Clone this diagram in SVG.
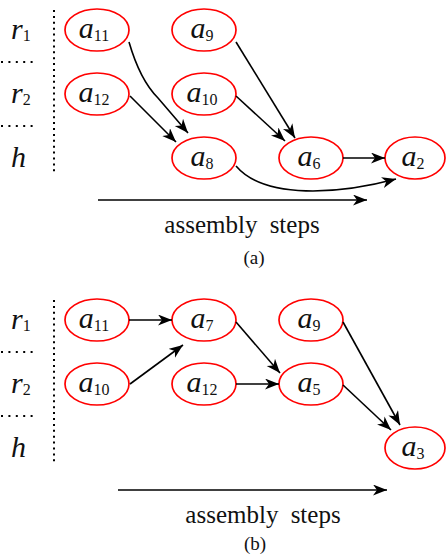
<svg xmlns="http://www.w3.org/2000/svg" width="446" height="556" viewBox="0 0 446 556">
<style>
.node ellipse{fill:#fff;stroke:#f00;stroke-width:1.7}
.m{font-style:italic;font-size:30px}
.s{font-style:normal;font-size:16px}
.lbl{text-anchor:middle}
.t{font-size:25px;text-anchor:middle;word-spacing:6px}
.cap{font-size:19px;text-anchor:middle}
.e{fill:none;stroke:#000;stroke-width:1.6;marker-end:url(#ah)}
.dv{stroke:#000;stroke-width:2;stroke-dasharray:2 3.9;fill:none}
.dh{stroke:#000;stroke-width:2;stroke-dasharray:2 5.4;fill:none}
</style>
<defs>
<marker id="ah" markerUnits="userSpaceOnUse" markerWidth="16" markerHeight="12" refX="14" refY="5.5" orient="auto">
<path d="M0,0 L14,5.5 L0,11 L4,5.5 z" fill="#000"/>
</marker>
</defs>

<g font-family="Liberation Serif" fill="#111">
<!-- panel (a) -->
<g id="axes-a">
<line class="dv" x1="54" y1="10" x2="54" y2="174"/>
<line class="dh" x1="1" y1="62" x2="38" y2="62"/>
<line class="dh" x1="1" y1="126" x2="38" y2="126"/>
<text class="m" x="11" y="39">r<tspan class="s" dy="2">1</tspan></text>
<text class="m" x="11" y="103">r<tspan class="s" dy="2">2</tspan></text>
<text class="m" x="11" y="167">h</text>
</g>
<g id="a-a11" class="node"><ellipse cx="97" cy="30" rx="32" ry="21"/><text class="m lbl" x="94" y="37.5">a<tspan class="s" dy="3">11</tspan></text></g>
<g id="a-a9" class="node"><ellipse cx="204" cy="30" rx="32" ry="21"/><text class="m lbl" x="202" y="37.5">a<tspan class="s" dy="3">9</tspan></text></g>
<g id="a-a12" class="node"><ellipse cx="97" cy="94" rx="32" ry="21"/><text class="m lbl" x="94" y="101.5">a<tspan class="s" dy="3">12</tspan></text></g>
<g id="a-a10" class="node"><ellipse cx="204" cy="94" rx="32" ry="21"/><text class="m lbl" x="202" y="101.5">a<tspan class="s" dy="3">10</tspan></text></g>
<g id="a-a8" class="node"><ellipse cx="204" cy="158" rx="32" ry="21"/><text class="m lbl" x="202" y="165.5">a<tspan class="s" dy="3">8</tspan></text></g>
<g id="a-a6" class="node"><ellipse cx="311" cy="158" rx="32" ry="21"/><text class="m lbl" x="309" y="165.5">a<tspan class="s" dy="3">6</tspan></text></g>
<g id="a-a2" class="node"><ellipse cx="415" cy="158" rx="30" ry="21"/><text class="m lbl" x="413" y="165.5">a<tspan class="s" dy="3">2</tspan></text></g>
<g id="connectors-a">
<path class="e" d="M129,42 Q140,80 158,98 L188,133"/>
<path class="e" d="M130,96 L176,142"/>
<path class="e" d="M236,42 L295,138"/>
<path class="e" d="M236,96 L285,141"/>
<path class="e" d="M343,158 L385,158"/>
<path class="e" d="M236,166 C265,200 340,194 396,179"/>
<path class="e" d="M98,200 L367,200"/>
</g>
<text class="t" x="242" y="233">assembly steps</text>
<text class="cap" x="254" y="264">(a)</text>

<!-- panel (b) -->
<g id="axes-b">
<line class="dv" x1="54" y1="300" x2="54" y2="464"/>
<line class="dh" x1="1" y1="352" x2="38" y2="352"/>
<line class="dh" x1="1" y1="416" x2="38" y2="416"/>
<text class="m" x="11" y="329">r<tspan class="s" dy="2">1</tspan></text>
<text class="m" x="11" y="393">r<tspan class="s" dy="2">2</tspan></text>
<text class="m" x="11" y="457">h</text>
</g>
<g id="b-a11" class="node"><ellipse cx="97" cy="320" rx="32" ry="21"/><text class="m lbl" x="94" y="327.5">a<tspan class="s" dy="3">11</tspan></text></g>
<g id="b-a7" class="node"><ellipse cx="204" cy="320" rx="32" ry="21"/><text class="m lbl" x="202" y="327.5">a<tspan class="s" dy="3">7</tspan></text></g>
<g id="b-a9" class="node"><ellipse cx="311" cy="320" rx="32" ry="21"/><text class="m lbl" x="309" y="327.5">a<tspan class="s" dy="3">9</tspan></text></g>
<g id="b-a10" class="node"><ellipse cx="97" cy="384" rx="32" ry="21"/><text class="m lbl" x="94" y="391.5">a<tspan class="s" dy="3">10</tspan></text></g>
<g id="b-a12" class="node"><ellipse cx="204" cy="384" rx="32" ry="21"/><text class="m lbl" x="202" y="391.5">a<tspan class="s" dy="3">12</tspan></text></g>
<g id="b-a5" class="node"><ellipse cx="311" cy="384" rx="32" ry="21"/><text class="m lbl" x="309" y="391.5">a<tspan class="s" dy="3">5</tspan></text></g>
<g id="b-a3" class="node"><ellipse cx="415" cy="448" rx="30" ry="21"/><text class="m lbl" x="413" y="455.5">a<tspan class="s" dy="3">3</tspan></text></g>
<g id="connectors-b">
<path class="e" d="M129,320 L172,320"/>
<path class="e" d="M130,384 L183,345"/>
<path class="e" d="M236,322 L280,373"/>
<path class="e" d="M236,384 L279,384"/>
<path class="e" d="M343,322 L400,425"/>
<path class="e" d="M343,385 L391,430"/>
<path class="e" d="M118,490 L387,490"/>
</g>
<text class="t" x="263" y="523">assembly steps</text>
<text class="cap" x="255" y="550">(b)</text>
</g>
</svg>
